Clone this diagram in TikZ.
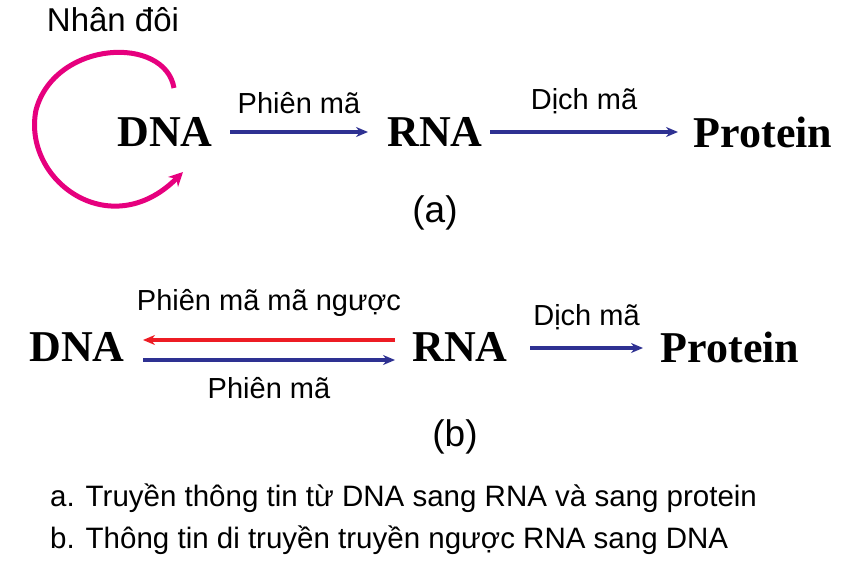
\documentclass[tikz,border=0pt]{standalone}
\usepackage{fontspec}
\setmainfont{Liberation Sans}
\newfontfamily\tnr{Liberation Serif}
\usetikzlibrary{arrows.meta}
\definecolor{navy}{RGB}{46,49,146}
\definecolor{mag}{RGB}{230,0,126}
\definecolor{rd}{RGB}{237,28,36}
\begin{document}
\begin{tikzpicture}[x=1pt,y=-1pt,
  big/.style={font=\tnr\bfseries\fontsize{44}{46}\selectfont,inner sep=0},
  lab/.style={font=\fontsize{29}{31}\selectfont,inner sep=0},
  captxt/.style={font=\fontsize{37}{39}\selectfont,inner sep=0},
  txt/.style={font=\fontsize{29.5}{31}\selectfont,inner sep=0,anchor=west},
  ar/.style={line width=3.5pt,-{Stealth[length=12pt,width=10pt]}}]
\useasboundingbox (0,0) rectangle (858,572);
\node[lab,font=\fontsize{33}{35}\selectfont] (nd) at (113,20) {Nhân đôi};
\node[big] (dna1) at (165,132) {DNA};
\node[big] (rna1) at (435,132) {RNA};
\node[big] (pro1) at (763,132) {Protein};
\coordinate (a1) at (230,132); \coordinate (a2) at (368,132);
\coordinate (a3) at (490,132); \coordinate (a4) at (678,132);
\draw[ar,navy] (a1) -- node[lab,above=16pt,text=black] {Phiên mã} (a2);
\draw[ar,navy] (a3) -- node[lab,above=16pt,text=black] {Dịch mã} (a4);
\coordinate (l1) at (174,88); \coordinate (l2) at (183,172);
\draw[mag,line width=5pt,-{Stealth[length=14pt,width=14pt]}] (l1) .. controls (165,35) and (55,40) .. (36,110) .. controls (22,180) and (110,245) .. (l2);
\node[captxt] (ca) at (435,213) {(a)};
\node[big] (dna2) at (77,347) {DNA};
\node[big] (rna2) at (460,347) {RNA};
\node[big] (pro2) at (730,347) {Protein};
\coordinate (b1) at (395,340); \coordinate (b2) at (143,340);
\coordinate (b3) at (143,360); \coordinate (b4) at (395,360);
\coordinate (b5) at (530,348); \coordinate (b6) at (643,348);
\draw[ar,rd] (b1) -- node[lab,above=22pt,text=black] {Phiên mã mã ngược} (b2);
\draw[ar,navy] (b3) -- node[lab,below=16pt,text=black] {Phiên mã} (b4);
\draw[ar,navy] (b5) -- node[lab,above=16pt,text=black] {Dịch mã} (b6);
\node[captxt] (cb) at (455,437) {(b)};
\node[txt] (t1) at (50,498) {a. Truyền thông tin từ DNA sang RNA và sang protein};
\node[txt] (t2) at (50,540) {b. Thông tin di truyền truyền ngược RNA sang DNA};
\end{tikzpicture}
\end{document}
